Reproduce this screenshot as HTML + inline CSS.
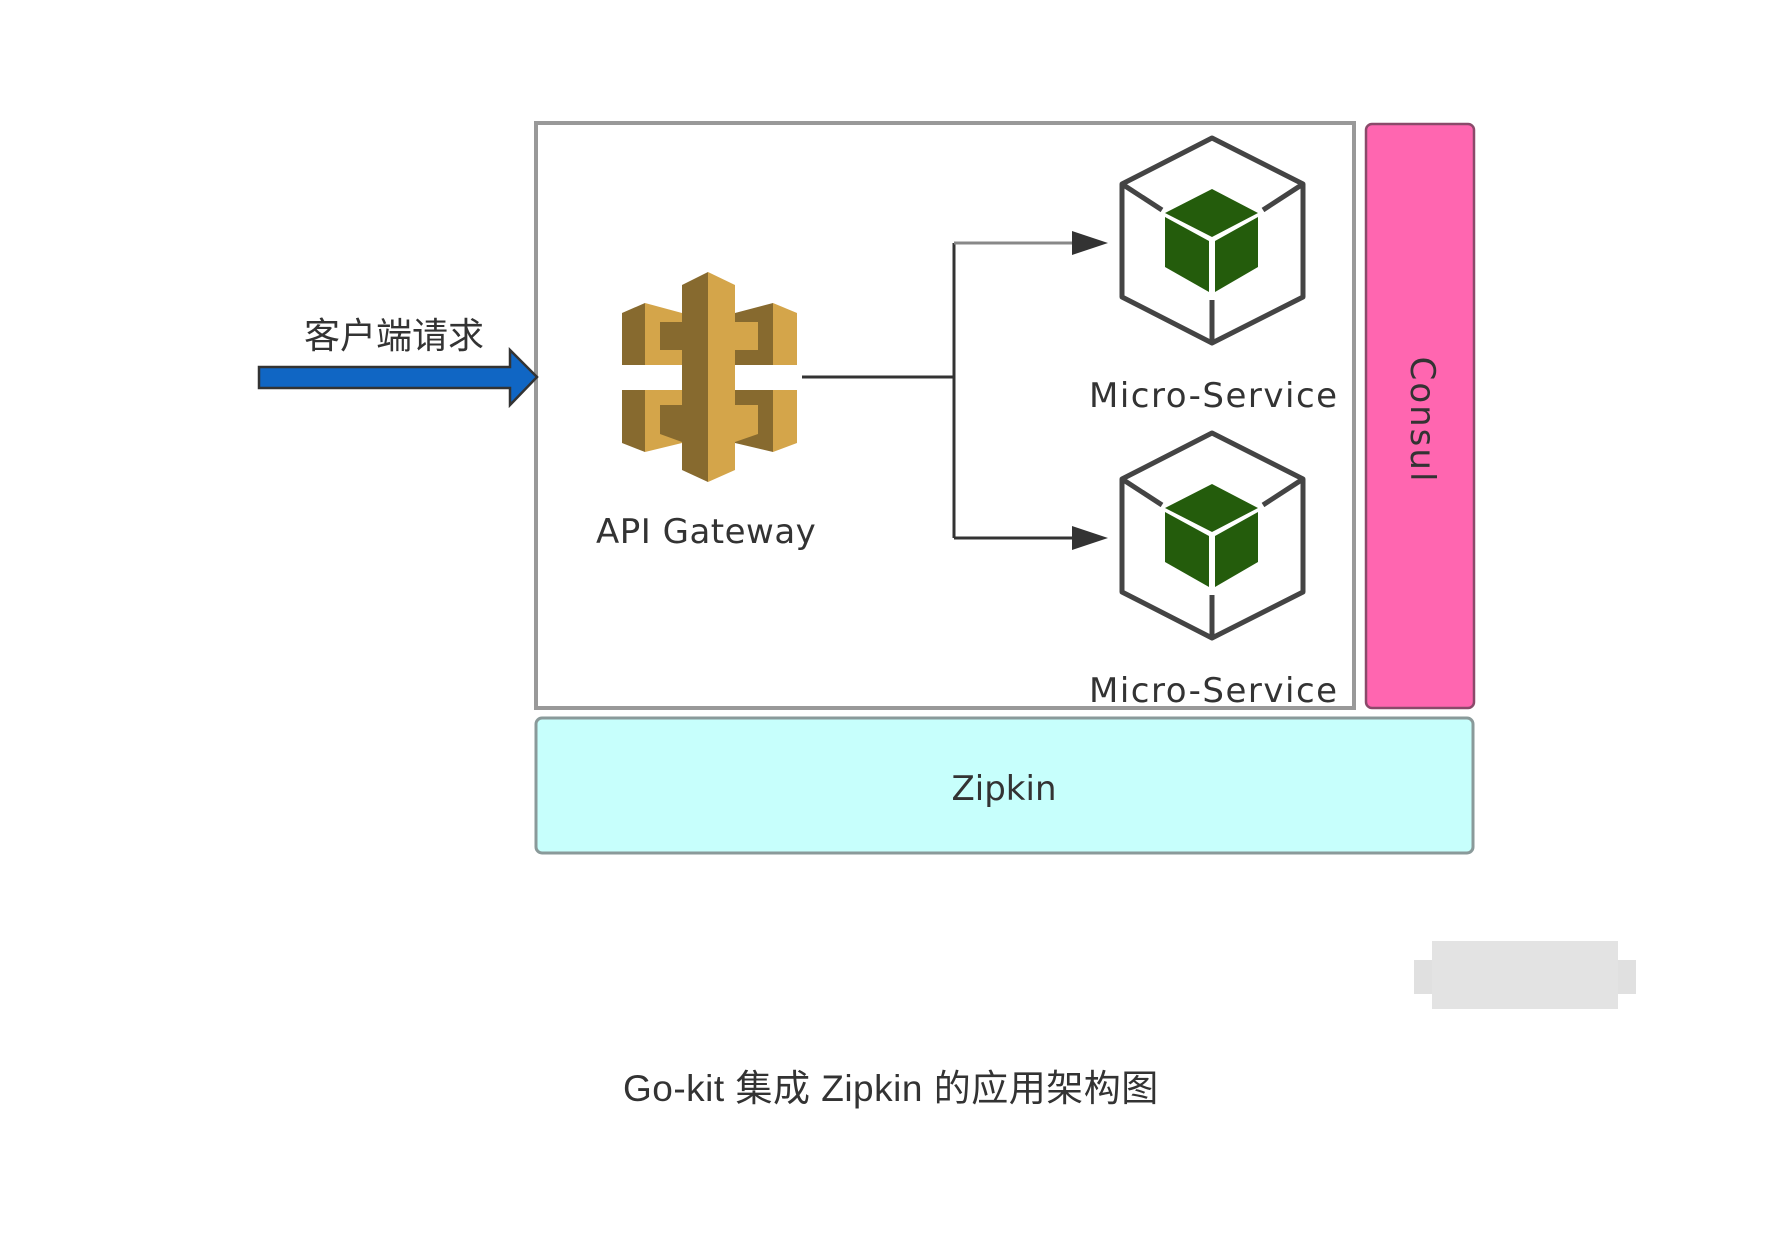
<!DOCTYPE html>
<html><head><meta charset="utf-8"><style>
html,body{margin:0;padding:0;background:#fff;}
body{width:1779px;height:1237px;position:relative;overflow:hidden;}
svg{position:absolute;left:0;top:0;}
text{font-family:"DejaVu Sans","Liberation Sans","Noto Sans CJK SC",sans-serif;fill:#333;}
</style></head><body>
<svg width="1779" height="1237" viewBox="0 0 1779 1237" xmlns="http://www.w3.org/2000/svg">
<rect x="536" y="123" width="818" height="585" fill="#fff" stroke="#999" stroke-width="4"/>
<rect x="1366" y="124" width="108" height="584" rx="6" fill="#FF66B0" stroke="#8a4a6a" stroke-width="2.5"/>
<text x="0" y="0" font-size="34" text-anchor="middle" dominant-baseline="central" transform="translate(1422,420) rotate(90)" style="letter-spacing:2px">Consul</text>
<rect x="536" y="718" width="937" height="135" rx="6" fill="#C7FFFC" stroke="#8a9a9a" stroke-width="3"/>
<text x="1004" y="800" font-size="34" text-anchor="middle">Zipkin</text>
<polygon points="259,367 510,367 510,350 537,377 510,405 510,388 259,388" fill="#1066C4" stroke="#333" stroke-width="2.5"/>
<text x="304" y="348" font-size="36" style="font-family:'Noto Sans CJK SC',sans-serif">客户端请求</text>
<g>
<polygon points="622,313 645,303 645,365 622,365" fill="#876A2F"/>
<polygon points="645,303 682,313 682,365 645,365" fill="#D4A54A"/>
<polygon points="660,322 682,322 682,350 660,350" fill="#876A2F"/>
<polygon points="622,390 645,390 645,452 622,443" fill="#876A2F"/>
<polygon points="645,390 682,390 682,443 645,452" fill="#D4A54A"/>
<polygon points="660,405 682,405 682,442 660,434" fill="#876A2F"/>
<polygon points="735,313 773,303 773,365 735,365" fill="#876A2F"/>
<polygon points="773,303 797,313 797,365 773,365" fill="#D4A54A"/>
<polygon points="735,322 758,322 758,350 735,350" fill="#D4A54A"/>
<polygon points="735,390 773,390 773,452 735,443" fill="#876A2F"/>
<polygon points="773,390 797,390 797,443 773,452" fill="#D4A54A"/>
<polygon points="735,405 758,405 758,434 735,442" fill="#D4A54A"/>
<polygon points="682,285 708,272 708,482 682,470" fill="#876A2F"/>
<polygon points="708,272 735,285 735,470 708,482" fill="#D4A54A"/>
</g>
<text x="596" y="543" font-size="34" style="letter-spacing:0.5px">API Gateway</text>
<g stroke="#333" stroke-width="3" fill="none">
<line x1="802" y1="377" x2="954" y2="377"/>
<line x1="954" y1="243" x2="954" y2="538"/>
<line x1="954" y1="243" x2="1075" y2="243" stroke="#888"/>
<line x1="954" y1="538" x2="1075" y2="538"/>
</g>
<polygon points="1072,231 1108,243 1072,255" fill="#333"/>
<polygon points="1072,526 1108,538 1072,550" fill="#333"/>
<defs>
<g id="cube">
<polygon points="1212,138 1303,184 1303,297 1212,343 1122,297 1122,184" fill="#fff" stroke="#444" stroke-width="5" stroke-linejoin="round"/>
<line x1="1122" y1="184" x2="1162" y2="210" stroke="#444" stroke-width="5"/>
<line x1="1303" y1="184" x2="1263" y2="210" stroke="#444" stroke-width="5"/>
<line x1="1212" y1="300" x2="1212" y2="343" stroke="#444" stroke-width="5"/>
<polygon points="1212,189 1258,213 1212,237 1165,213" fill="#245C0C"/>
<polygon points="1165,217 1209,241 1209,292 1165,267" fill="#245C0C"/>
<polygon points="1215,241 1258,217 1258,267 1215,292" fill="#245C0C"/>
</g>
</defs>
<use href="#cube"/>
<use href="#cube" transform="translate(0,295)"/>
<text x="1089" y="407" font-size="34" style="letter-spacing:1.5px">Micro-Service</text>
<text x="1089" y="702" font-size="34" style="letter-spacing:1.5px">Micro-Service</text>
<rect x="1414" y="960" width="222" height="34" fill="#e0e0e0"/>
<rect x="1432" y="941" width="186" height="68" fill="#e3e3e3"/>
<text x="623" y="1101" font-size="37" style="font-family:'Liberation Sans','Noto Sans CJK SC',sans-serif;letter-spacing:0.5px">Go-kit 集成 Zipkin 的应用架构图</text>
</svg>
</body></html>
